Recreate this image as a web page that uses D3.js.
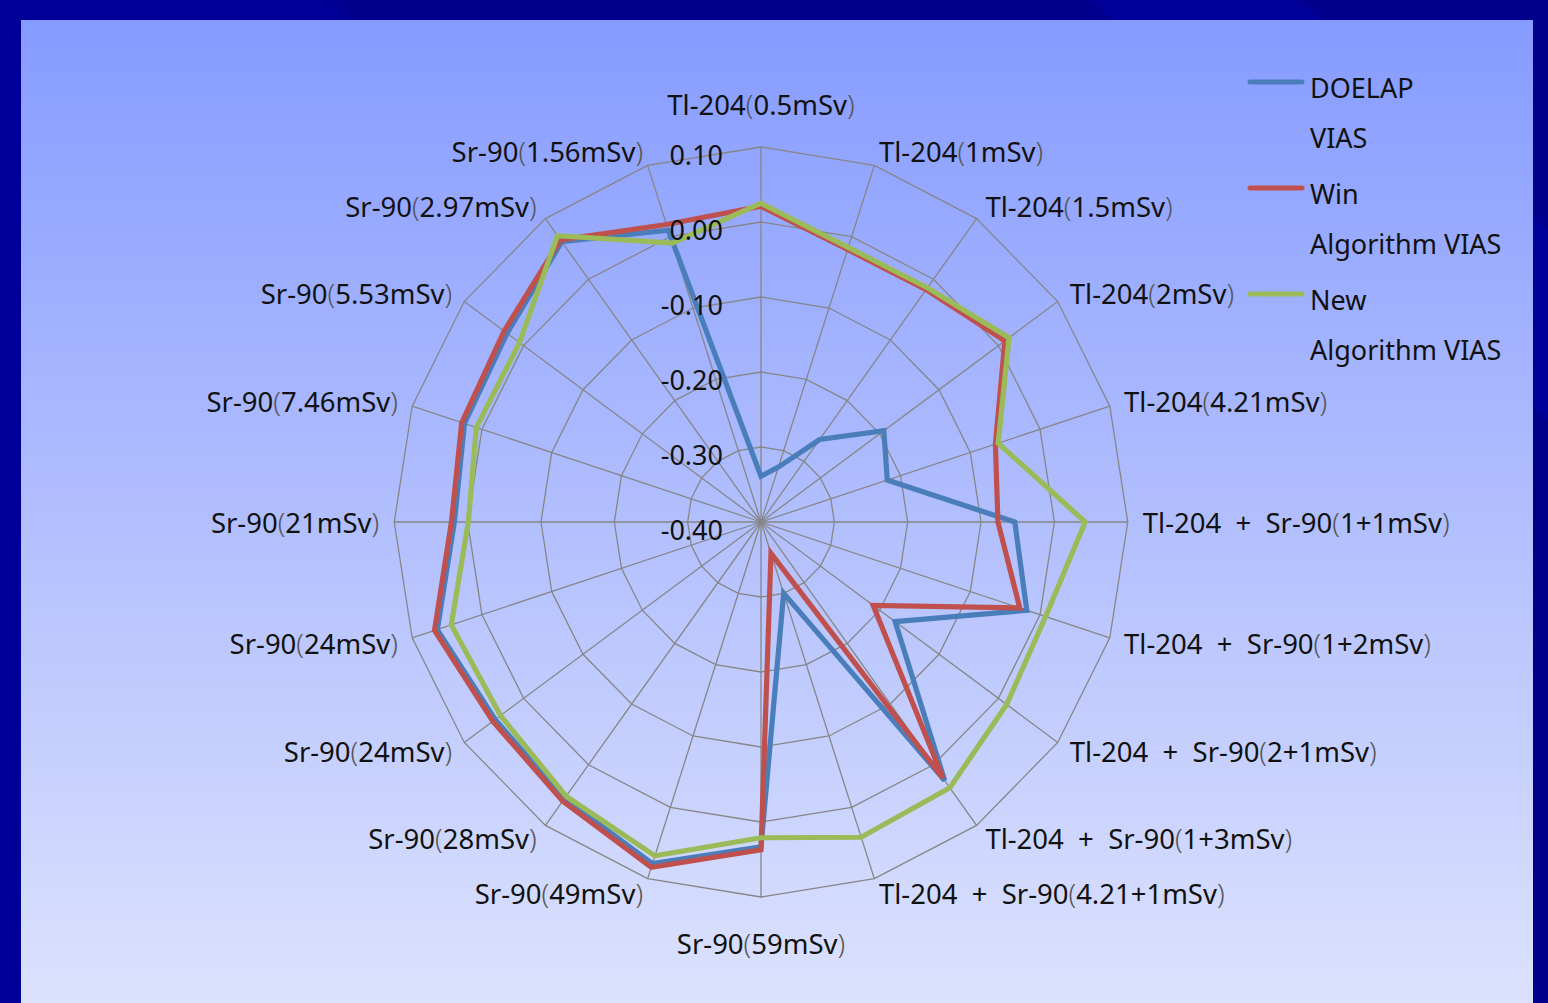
<!DOCTYPE html>
<html>
<head>
<meta charset="utf-8">
<script src="https://cdn.jsdelivr.net/npm/d3@7/dist/d3.min.js"></script>
<style>
  html, body { margin: 0; padding: 0; background: #000099; }
  svg { display: block; }
  text { font-family: "Noto Sans", "DejaVu Sans", sans-serif; fill: #111; white-space: pre; }
</style>
</head>
<body>
<svg id="chart" width="1548" height="1003"></svg>
<script>
// Radar axes, clockwise from the top
const categories = [
  "Tl-204(0.5mSv)", "Tl-204(1mSv)", "Tl-204(1.5mSv)", "Tl-204(2mSv)", "Tl-204(4.21mSv)",
  "Tl-204  +  Sr-90(1+1mSv)", "Tl-204  +  Sr-90(1+2mSv)", "Tl-204  +  Sr-90(2+1mSv)",
  "Tl-204  +  Sr-90(1+3mSv)", "Tl-204  +  Sr-90(4.21+1mSv)",
  "Sr-90(59mSv)", "Sr-90(49mSv)", "Sr-90(28mSv)", "Sr-90(24mSv)", "Sr-90(24mSv)",
  "Sr-90(21mSv)", "Sr-90(7.46mSv)", "Sr-90(5.53mSv)", "Sr-90(2.97mSv)", "Sr-90(1.56mSv)"
];

const doelapVias = [
  -0.339, -0.323, -0.264, -0.193, -0.219, -0.054, -0.019, -0.174, 0.026, -0.300,
  0.033, 0.079, 0.056, 0.048, 0.064, 0.018, 0.025, 0.028, 0.062, 0.009
];
const winAlgorithmVias = [
  0.021, -0.018, -0.017, 0.011, -0.064, -0.077, -0.029, -0.211, 0.022, -0.356,
  0.037, 0.084, 0.060, 0.052, 0.068, 0.022, 0.029, 0.033, 0.065, 0.017
];
const newAlgorithmVias = [
  0.025, -0.015, -0.014, 0.018, -0.060, 0.042, 0.008, 0.014, 0.038, 0.042,
  0.021, 0.068, 0.052, 0.039, 0.044, -0.001, 0.008, 0.007, 0.072, -0.009
];

const seriesNames = [["DOELAP", "VIAS"], ["Win", "Algorithm VIAS"], ["New", "Algorithm VIAS"]];
const seriesColors = ["#4A7EBB", "#C0504D", "#9BBB59"];
const tickValues = [0.10, 0.00, -0.10, -0.20, -0.30, -0.40];

const W = 1548, H = 1003;
const svg = d3.select("#chart");

// Slide backdrop with diagonal bands
const defs = svg.append("defs");
const grad = defs.append("linearGradient").attr("id", "panel").attr("x1", 0).attr("y1", 0).attr("x2", 0).attr("y2", 1);
grad.append("stop").attr("offset", "0%").attr("stop-color", "#869BFF");
grad.append("stop").attr("offset", "100%").attr("stop-color", "#DCE2FD");

svg.append("rect").attr("width", W).attr("height", H).attr("fill", "#000099");
svg.append("path").attr("d", `M334,0 L${W},0 L${W},${H} L1200,${H} Z`).attr("fill", "#000088").attr("opacity", 0.8);
svg.append("path").attr("d", `M1090,0 L1300,0 L${W},230 L${W},420 Z`).attr("fill", "#0000A0").attr("opacity", 0.7);
svg.append("rect").attr("x", 21).attr("y", 20).attr("width", 1512).attr("height", H - 20).attr("fill", "url(#panel)");

// Radar geometry
const cx = 761, cy = 522, R = 375, kx = 0.978;
const n = categories.length;
const r = d3.scaleLinear().domain([-0.4, 0.1]).range([0, R]);
const angle = i => i * 2 * Math.PI / n;
const pt = (i, rad) => [cx + kx * rad * Math.sin(angle(i)), cy - rad * Math.cos(angle(i))];

const g = svg.append("g");

// Rings
const ringVals = tickValues.filter(v => v > -0.4);
g.selectAll("path.ring").data(ringVals).join("path")
  .attr("class", "ring")
  .attr("d", v => d3.line().curve(d3.curveLinearClosed)(d3.range(n).map(i => pt(i, r(v)))))
  .attr("fill", "none").attr("stroke", "#868686").attr("stroke-width", 1.3);

// Spokes
g.selectAll("line.spoke").data(d3.range(n)).join("line")
  .attr("class", "spoke")
  .attr("x1", cx).attr("y1", cy)
  .attr("x2", i => pt(i, R)[0]).attr("y2", i => pt(i, R)[1])
  .attr("stroke", "#868686").attr("stroke-width", 1.3);

// Series
const series = [doelapVias, winAlgorithmVias, newAlgorithmVias];
const radarLine = d3.line().curve(d3.curveLinearClosed);
g.selectAll("path.series").data(series).join("path")
  .attr("class", "series")
  .attr("d", vals => radarLine(vals.map((v, i) => pt(i, r(v)))))
  .attr("fill", "none")
  .attr("stroke", (d, k) => seriesColors[k])
  .attr("stroke-width", 5.2)
  .attr("stroke-linejoin", "miter");

// Tick labels (plain hyphen for negatives)
const fmt = v => d3.format(".2f")(v).replace("\u2212", "-");
g.selectAll("text.tick").data(tickValues).join("text")
  .attr("class", "tick")
  .attr("x", cx - 38)
  .attr("y", v => cy - r(v) + 7)
  .attr("text-anchor", "end")
  .attr("dominant-baseline", "central")
  .attr("font-size", 27)
  .text(fmt);

// Category labels; parentheses are drawn lighter
function addLabel(sel, s) {
  const parts = s.split(/([()])/).filter(p => p.length);
  parts.forEach(p => {
    const t = sel.append("tspan").text(p);
    if (p === "(" || p === ")") t.attr("fill", "#555").attr("font-weight", 300);
  });
}
categories.forEach((c, i) => {
  const a = angle(i);
  const s = Math.sin(a), co = Math.cos(a);
  let x, y, anchor;
  if (Math.abs(s) < 1e-6) {
    x = cx; anchor = "middle";
    y = co > 0 ? cy - R - 43 : cy + R + 46;
  } else {
    const p = pt(i, R);
    x = p[0] + 15 * s; y = p[1] - 15 * co;
    anchor = s > 0 ? "start" : "end";
  }
  const t = g.append("text").attr("x", x).attr("y", y)
    .attr("text-anchor", anchor).attr("dominant-baseline", "central")
    .attr("font-size", 27.5);
  addLabel(t, c);
});

// Legend
const leg = svg.append("g");
const legendTop = 82, legendStep = 106;
seriesNames.forEach((nm, k) => {
  const y0 = legendTop + k * legendStep;
  leg.append("line").attr("x1", 1250).attr("x2", 1302).attr("y1", y0).attr("y2", y0)
    .attr("stroke", seriesColors[k]).attr("stroke-width", 5).attr("stroke-linecap", "round");
  nm.forEach((line, j) => {
    leg.append("text").attr("x", 1310).attr("y", y0 + 5 + j * 50)
      .attr("dominant-baseline", "central").attr("font-size", 27).text(line);
  });
});
</script>
</body>
</html>
